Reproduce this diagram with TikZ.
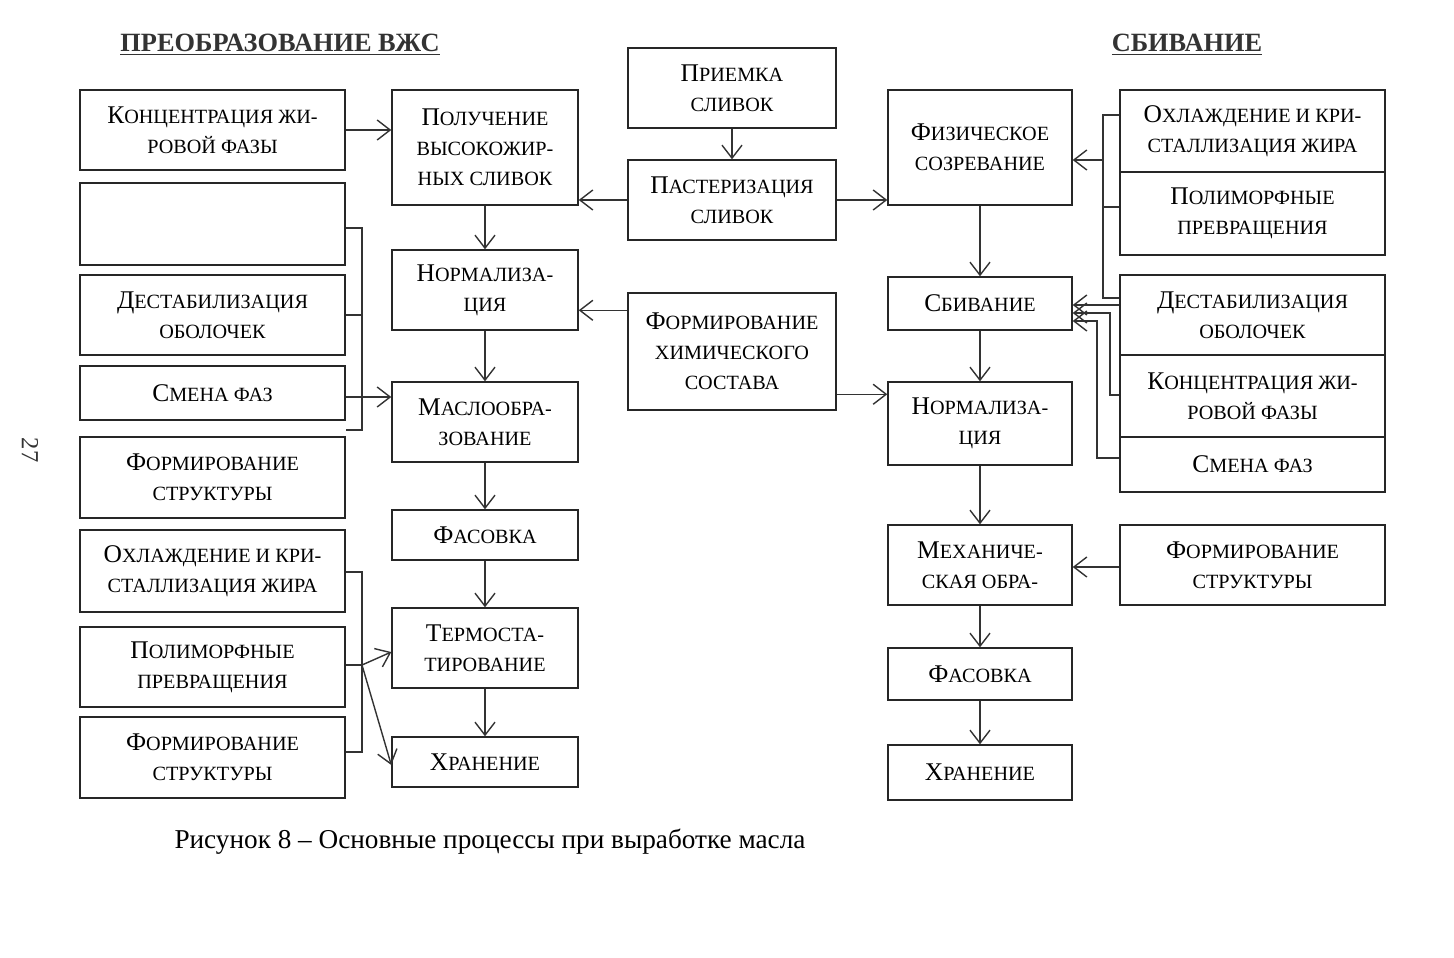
\documentclass[tikz,border=0pt]{standalone}
\usepackage{fontspec}
\setmainfont{Liberation Serif}
\usetikzlibrary{positioning,calc,arrows.meta}
\newcommand\sk[2]{#1{\fontsize{11.5}{17}\selectfont #2}}
\begin{document}
\begin{tikzpicture}[x=0.02cm,y=-0.02cm,
    box/.style={draw,thick,black!85,text=black,align=center,inner sep=0pt,
      font=\fontsize{14.5}{17}\selectfont},
    >={Straight Barb[length=2.6mm,width=4mm]}, every path/.style={thick,black!80}]
  \useasboundingbox (0,0) rectangle (1454,957);
  % box from corners: name, x1, y1, x2, y2, text
  \newcommand\bx[6]{\node[box,minimum width={(#4-#2)*0.02cm},minimum height={(#5-#3)*0.02cm}]
    (#1) at ({(#2+#4)/2},{(#3+#5)/2}) {#6};}
  % titles
  \node[font=\bfseries\fontsize{15}{17}\selectfont] (tl) at (280,45) {\underline{ПРЕОБРАЗОВАНИЕ ВЖС}};
  \node[font=\bfseries\fontsize{15}{17}\selectfont] (tr) at (1187,45) {\underline{СБИВАНИЕ}};
  \node[rotate=-90,font=\fontsize{14}{17}\selectfont] (pg) at (30,450) {27};
  % left column
  \bx{lkonc}{80}{90}{345}{170}{\sk{К}{ОНЦЕНТРАЦИЯ ЖИ-}\\\sk{}{РОВОЙ ФАЗЫ}}
  \bx{lempty}{80}{183}{345}{265}{}
  \bx{ldest}{80}{275}{345}{355}{\sk{Д}{ЕСТАБИЛИЗАЦИЯ}\\\sk{}{ОБОЛОЧЕК}}
  \bx{lsmena}{80}{366}{345}{420}{\sk{С}{МЕНА ФАЗ}}
  \bx{lform}{80}{437}{345}{518}{\sk{Ф}{ОРМИРОВАНИЕ}\\\sk{}{СТРУКТУРЫ}}
  \bx{lohl}{80}{530}{345}{612}{\sk{О}{ХЛАЖДЕНИЕ И КРИ-}\\\sk{}{СТАЛЛИЗАЦИЯ ЖИРА}}
  \bx{lpoli}{80}{627}{345}{707}{\sk{П}{ОЛИМОРФНЫЕ}\\\sk{}{ПРЕВРАЩЕНИЯ}}
  \bx{lform2}{80}{717}{345}{798}{\sk{Ф}{ОРМИРОВАНИЕ}\\\sk{}{СТРУКТУРЫ}}
  % second column
  \bx{poluch}{392}{90}{578}{205}{\sk{П}{ОЛУЧЕНИЕ}\\\sk{}{ВЫСОКОЖИР-}\\\sk{}{НЫХ СЛИВОК}}
  \bx{norm}{392}{250}{578}{330}{\sk{Н}{ОРМАЛИЗА-}\\\sk{}{ЦИЯ}}
  \bx{maslo}{392}{382}{578}{462}{\sk{М}{АСЛООБРА-}\\\sk{}{ЗОВАНИЕ}}
  \bx{fas}{392}{510}{578}{560}{\sk{Ф}{АСОВКА}}
  \bx{termo}{392}{608}{578}{688}{\sk{Т}{ЕРМОСТА-}\\\sk{}{ТИРОВАНИЕ}}
  \bx{hran}{392}{737}{578}{787}{\sk{Х}{РАНЕНИЕ}}
  % centre
  \bx{priem}{628}{48}{836}{128}{\sk{П}{РИЕМКА}\\\sk{}{СЛИВОК}}
  \bx{paster}{628}{160}{836}{240}{\sk{П}{АСТЕРИЗАЦИЯ}\\\sk{}{СЛИВОК}}
  \bx{chem}{628}{293}{836}{410}{\sk{Ф}{ОРМИРОВАНИЕ}\\\sk{}{ХИМИЧЕСКОГО}\\\sk{}{СОСТАВА}}
  % fourth column
  \bx{fiz}{888}{90}{1072}{205}{\sk{Ф}{ИЗИЧЕСКОЕ}\\\sk{}{СОЗРЕВАНИЕ}}
  \bx{sbiv}{888}{277}{1072}{330}{\sk{С}{БИВАНИЕ}}
  \bx{norm2}{888}{382}{1072}{465}{\sk{Н}{ОРМАЛИЗА-}\\\sk{}{ЦИЯ}}
  \bx{meh}{888}{525}{1072}{605}{\sk{М}{ЕХАНИЧЕ-}\\\sk{}{СКАЯ ОБРА-}}
  \bx{fas2}{888}{648}{1072}{700}{\sk{Ф}{АСОВКА}}
  \bx{hran2}{888}{745}{1072}{800}{\sk{Х}{РАНЕНИЕ}}
  % right column
  \bx{rohl}{1120}{90}{1385}{172}{\sk{О}{ХЛАЖДЕНИЕ И КРИ-}\\\sk{}{СТАЛЛИЗАЦИЯ ЖИРА}}
  \bx{rpoli}{1120}{172}{1385}{255}{\sk{П}{ОЛИМОРФНЫЕ}\\\sk{}{ПРЕВРАЩЕНИЯ}}
  \bx{rdest}{1120}{275}{1385}{355}{\sk{Д}{ЕСТАБИЛИЗАЦИЯ}\\\sk{}{ОБОЛОЧЕК}}
  \bx{rkonc}{1120}{355}{1385}{437}{\sk{К}{ОНЦЕНТРАЦИЯ ЖИ-}\\\sk{}{РОВОЙ ФАЗЫ}}
  \bx{rsmena}{1120}{437}{1385}{492}{\sk{С}{МЕНА ФАЗ}}
  \bx{rform}{1120}{525}{1385}{605}{\sk{Ф}{ОРМИРОВАНИЕ}\\\sk{}{СТРУКТУРЫ}}
  % caption
  \node[text=black,font=\fontsize{15.5}{18}\selectfont] (cap) at (490,842)
    {Рисунок 8 – Основные процессы при выработке масла};
  % centre arrows
  \draw[->] (priem) -- (paster);
  \draw[->] (paster.west) -- (paster.west -| poluch.east);
  \draw[->] (paster.east) -- (paster.east -| fiz.west);
  \draw[->] ([yshift=-0.36cm]chem.north west) -- ([yshift=-0.36cm]chem.north west -| norm.east);
  \draw[->] ([yshift=-2.04cm]chem.north east) -- ([yshift=-2.04cm]chem.north east -| norm2.west);
  % chains
  \foreach \a/\b in {poluch/norm,norm/maslo,maslo/fas,fas/termo,termo/hran,
      fiz/sbiv,sbiv/norm2,norm2/meh,meh/fas2,fas2/hran2}
    \draw[->] (\a) -- (\b);
  % left side
  \draw[->] (lkonc.east |- 0,130) -- (poluch.west |- 0,130);
  \draw (lempty.east |- 0,228) -- (362,228) coordinate (lb) |- (lform.east |- 0,430);
  \draw (ldest.east |- 0,315) -- (lb |- 0,315);
  \draw[->] (lsmena.east |- 0,397) -- (maslo.west |- 0,397);
  \draw (lohl.east |- 0,572) -- (362,572) coordinate (lb2) |- (lform2.east |- 0,752);
  \draw (lpoli.east |- 0,665) -- (lb2 |- 0,665) coordinate (lp);
  \draw[->] (lp) -- (termo.west |- 0,652);
  \draw[->] (lp) -- (hran.west |- 0,765);
  % right side
  \draw (rohl.west |- 0,115) -- (1103,115) coordinate (rb) |- (rdest.west |- 0,298);
  \draw (rpoli.west |- 0,207) -- (rb |- 0,207);
  \draw[->] (rb |- 0,160) -- (fiz.east |- 0,160);
  \draw[->] (rdest.west |- 0,305) -- (sbiv.east |- 0,305);
  \draw[->] (rkonc.west |- 0,395) -- (1110,395) |- (sbiv.east |- 0,313);
  \draw[->] (rsmena.west |- 0,458) -- (1097,458) |- (sbiv.east |- 0,321);
  \draw[->] (rform.west |- 0,567) -- (meh.east |- 0,567);
\end{tikzpicture}
\end{document}
